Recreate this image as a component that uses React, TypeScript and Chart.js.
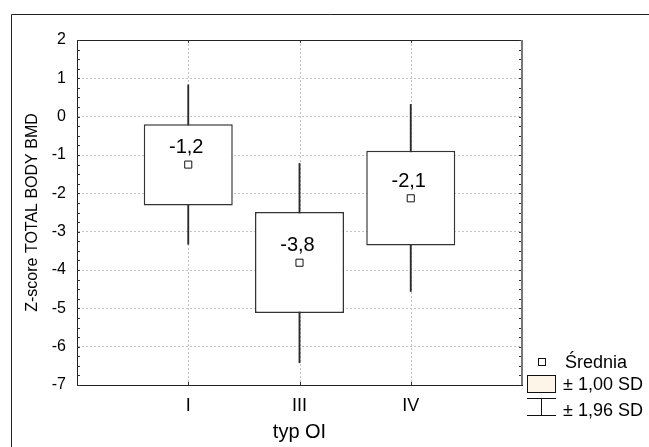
import React, { useEffect, useRef } from 'react';
import { Chart, registerables } from 'chart.js';
Chart.register(...registerables);

// ---- data ----
const categories = ['I', 'III', 'IV'];
const means = [-1.25, -3.81, -2.13];
const sd1Low = [-2.32, -5.12, -3.36];
const sd1High = [-0.2, -2.49, -0.89];
const sd196Low = [-3.33, -6.42, -4.56];
const sd196High = [0.83, -1.22, 0.32];
const meanLabels = ['-1,2', '-3,8', '-2,1'];
const yMin = -7;
const yMax = 2;
const yStep = 1;
const legendLabels = ['Średnia', '± 1,00 SD', '± 1,96 SD'];
const xTitle = 'typ OI';
const yTitle = 'Z-score TOTAL BODY BMD';

const FONT = '"Liberation Sans", Arial, sans-serif';

const xLabels = ['', ...categories, ''];
const pad = (arr: any[]) => [null, ...arr, null];

const decorPlugin = {
  id: 'decor',
  beforeDraw(chart: any) {
    const { ctx, width, height } = chart;
    ctx.save();
    ctx.fillStyle = '#ffffff';
    ctx.fillRect(0, 0, width, height);
    ctx.restore();
  },
  beforeDatasetsDraw(chart: any) {
    const { ctx, chartArea: ca } = chart;
    const xs = chart.scales.x;
    ctx.save();
    ctx.strokeStyle = '#c4c4c4';
    ctx.lineWidth = 1;
    ctx.setLineDash([2, 2]);
    ctx.beginPath();
    categories.forEach((_, i) => {
      const x = Math.round(xs.getPixelForValue(i + 1)) + 0.5;
      ctx.moveTo(x, ca.top);
      ctx.lineTo(x, ca.bottom);
    });
    ctx.stroke();
    ctx.restore();
  },
  afterDatasetsDraw(chart: any) {
    const { ctx } = chart;
    const xs = chart.scales.x;
    const ys = chart.scales.y;
    ctx.save();
    ctx.fillStyle = '#000';
    ctx.font = `20px ${FONT}`;
    ctx.textAlign = 'center';
    ctx.textBaseline = 'middle';
    means.forEach((m, i) => {
      const x = xs.getPixelForValue(i + 1);
      const y = ys.getPixelForValue(m);
      ctx.fillText(meanLabels[i], x - 2, y - 17);
    });
    ctx.restore();
  },
  afterDraw(chart: any) {
    const { ctx, chartArea: ca } = chart;
    const xs = chart.scales.x;
    const ys = chart.scales.y;
    ctx.save();
    // outer frame
    ctx.strokeStyle = '#222';
    ctx.lineWidth = 1;
    ctx.beginPath();
    ctx.moveTo(11.5, 447);
    ctx.lineTo(11.5, 14.5);
    ctx.lineTo(649, 14.5);
    ctx.stroke();
    // plot top border
    ctx.beginPath();
    ctx.moveTo(ca.left, ca.top + 0.5);
    ctx.lineTo(ca.right, ca.top + 0.5);
    ctx.stroke();
    // right border (grey, thicker)
    ctx.strokeStyle = '#777';
    ctx.lineWidth = 2;
    ctx.beginPath();
    ctx.moveTo(ca.right, ca.top);
    ctx.lineTo(ca.right, ca.bottom);
    ctx.stroke();
    // minor ticks
    ctx.strokeStyle = '#333';
    ctx.lineWidth = 1;
    ctx.beginPath();
    for (let v = yMin; v <= yMax + 1e-9; v += 0.25) {
      const y = Math.round(ys.getPixelForValue(v)) + 0.5;
      ctx.moveTo(ca.left, y);
      ctx.lineTo(ca.left + 3, y);
      ctx.moveTo(ca.right - 1, y);
      ctx.lineTo(ca.right - 3, y);
    }
    categories.forEach((_, i) => {
      const x = Math.round(xs.getPixelForValue(i + 1)) + 0.5;
      ctx.moveTo(x, ca.top);
      ctx.lineTo(x, ca.top + 3);
      ctx.moveTo(x, ca.bottom);
      ctx.lineTo(x, ca.bottom - 3);
    });
    ctx.stroke();

    // legend
    ctx.strokeStyle = '#111';
    ctx.lineWidth = 1;
    ctx.fillStyle = '#fff';
    ctx.fillRect(538.5, 358.5, 7, 7);
    ctx.strokeRect(538.5, 358.5, 7, 7);
    ctx.fillStyle = '#fdf6e8';
    ctx.fillRect(527.5, 375.5, 28, 17);
    ctx.strokeRect(527.5, 375.5, 28, 17);
    ctx.beginPath();
    ctx.moveTo(527, 398.5);
    ctx.lineTo(556, 398.5);
    ctx.moveTo(541.5, 398.5);
    ctx.lineTo(541.5, 415.5);
    ctx.moveTo(527, 415.5);
    ctx.lineTo(556, 415.5);
    ctx.stroke();
    ctx.fillStyle = '#000';
    ctx.font = `18px ${FONT}`;
    ctx.textAlign = 'left';
    ctx.textBaseline = 'middle';
    ctx.fillText(legendLabels[0], 565, 363);
    ctx.fillText(legendLabels[1], 563, 385);
    ctx.fillText(legendLabels[2], 563, 411);
    ctx.restore();
  },
};

export default function App() {
  const ref = useRef<HTMLCanvasElement | null>(null);
  useEffect(() => {
    if (!ref.current) return;
    const chart = new Chart(ref.current, {
      type: 'bar',
      data: {
        labels: xLabels,
        datasets: [
          {
            type: 'bar',
            label: 'whisker',
            data: pad(categories.map((_, i) => [sd196Low[i], sd196High[i]])),
            backgroundColor: '#2a2a2a',
            barThickness: 1.2,
            grouped: false,
            order: 3,
          } as any,
          {
            type: 'bar',
            label: 'box',
            data: pad(categories.map((_, i) => [sd1Low[i], sd1High[i]])),
            backgroundColor: '#ffffff',
            borderColor: '#333',
            borderWidth: 1.5,
            borderSkipped: false,
            barPercentage: 0.8,
            categoryPercentage: 1,
            grouped: false,
            order: 2,
          } as any,
          {
            type: 'line',
            label: 'mean',
            data: pad(means),
            showLine: false,
            pointStyle: 'rect',
            pointRadius: 5,
            pointBackgroundColor: '#fff',
            pointBorderColor: '#111',
            pointBorderWidth: 1,
            order: 1,
          } as any,
        ],
      },
      options: {
        animation: false,
        responsive: false,
        events: [],
        layout: { padding: { top: 40, right: 127, left: 0, bottom: 0 } },
        plugins: { legend: { display: false }, tooltip: { enabled: false }, title: { display: false } },
        scales: {
          x: {
            type: 'category',
            offset: false,
            grid: { display: true, drawOnChartArea: false, drawTicks: false },
            border: { display: true, color: '#222', width: 1 },
            ticks: { color: '#000', font: { family: FONT, size: 18 }, padding: 10, autoSkip: false, maxRotation: 0 },
            title: { display: true, text: xTitle, color: '#000', font: { family: FONT, size: 20 }, padding: { top: 0, bottom: 3 } },
            afterFit: (s: any) => { s.height = 62; },
          },
          y: {
            type: 'linear',
            min: yMin,
            max: yMax,
            grid: { color: '#c4c4c4', lineWidth: 1, drawTicks: false },
            border: { display: true, color: '#222', width: 1, dash: [2, 2] },
            ticks: { stepSize: yStep, color: '#000', font: { family: FONT, size: 16 }, padding: 11 },
            title: { display: true, text: yTitle, color: '#000', font: { family: FONT, size: 16 }, padding: { top: 23, bottom: 0 } },
            afterFit: (s: any) => { s.width = 77; },
          },
        },
      } as any,
      plugins: [decorPlugin],
    });
    return () => chart.destroy();
  }, []);
  return (
    <div style={{ position: 'fixed', left: 0, top: 0, width: 649, height: 447, background: '#fff' }}>
      <canvas ref={ref} width={649} height={447} style={{ display: 'block', width: 649, height: 447 }} />
    </div>
  );
}
